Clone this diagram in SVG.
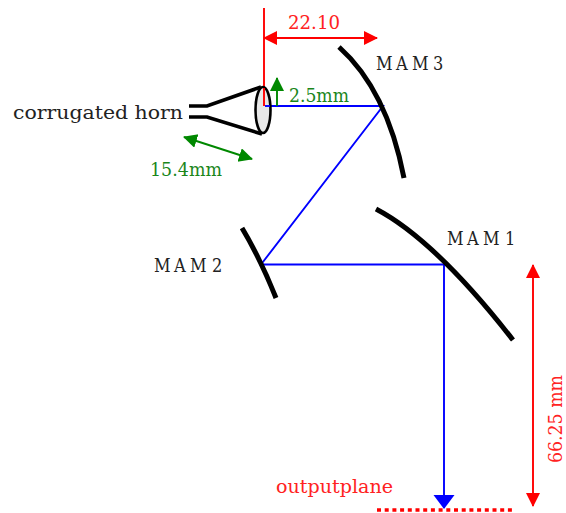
<svg xmlns="http://www.w3.org/2000/svg" width="566" height="513" viewBox="0 0 566 513">
<style>
text{font-family:"DejaVu Serif",serif;font-size:18px}
.c{font-family:"DejaVu Serif Condensed","DejaVu Serif",serif}
.k{fill:#222}.r{fill:#f22}.g{fill:#1a861a}
.m{fill:none;stroke:#000;stroke-width:5}
.b{fill:none;stroke:#00f;stroke-width:1.9}
.rl{fill:none;stroke:#f00;stroke-width:1.9}
.gl{fill:none;stroke:#080;stroke-width:1.9}
</style>
<defs>
<marker id="ar" markerUnits="userSpaceOnUse" markerWidth="14" markerHeight="16" refX="13" refY="7" orient="auto-start-reverse"><path d="M0 0L14 7L0 14Z" fill="#f00"/></marker>
<marker id="ag" markerUnits="userSpaceOnUse" markerWidth="14" markerHeight="16" refX="13" refY="7" orient="auto-start-reverse"><path d="M0 0L14 7L0 14Z" fill="#080"/></marker>
<marker id="ab" markerUnits="userSpaceOnUse" markerWidth="14" markerHeight="22" refX="13" refY="10.5" orient="auto"><path d="M0 0L14 10.5L0 21Z" fill="#00f"/></marker>
</defs>
<g id="connectors">
<path class="b" d="M265 106H383L261 264.500H444V508" marker-end="url(#ab)"/>
<path class="rl" d="M264 8V106"/>
<path class="rl" d="M264 38H377" marker-start="url(#ar)" marker-end="url(#ar)"/>
<path class="rl" d="M533 265V506" marker-start="url(#ar)" marker-end="url(#ar)"/>
<path class="gl" d="M277 106V78" marker-end="url(#ag)"/>
<path class="gl" d="M184 137L252 159" marker-start="url(#ag)" marker-end="url(#ag)"/>
<path d="M377 510H512" fill="none" stroke="#f00" stroke-width="3.5" stroke-dasharray="4 3.7"/>
</g>
<g id="horn">
<ellipse cx="263" cy="110" rx="7.5" ry="23" fill="#e8e8e8" stroke="#000" stroke-width="2.6"/>
<path d="M189 106H207L261 87M189 117H207L262 134" fill="none" stroke="#000" stroke-width="3.6"/>
<path d="M264 88V106" fill="none" stroke="#f00" stroke-width="1.9"/>
<path d="M265 106H270" fill="none" stroke="#00f" stroke-width="1.9"/>
<text class="k" x="13" y="119" textLength="170" lengthAdjust="spacingAndGlyphs">corrugated horn</text>
</g>
<g id="mam3"><text class="k c" y="70" x="376 396 412 0 433">MAM 3</text><path class="m" d="M339 47Q387 90 404 178"/></g>
<g id="mam1"><text class="k c" y="245" x="447 467 483 0 505">MAM 1</text><path class="m" d="M376 209Q435 240 513 340"/></g>
<g id="mam2"><text class="k c" y="272" x="154 174 190 0 212">MAM 2</text><path class="m" d="M242 228Q260 258 276 298"/></g>
<g id="dim-22"><text class="r" x="288" y="29" textLength="52" lengthAdjust="spacingAndGlyphs">22.10</text></g>
<g id="dim-25"><text class="g" x="289" y="102" textLength="60" lengthAdjust="spacingAndGlyphs">2.5mm</text></g>
<g id="dim-154"><text class="g" x="150" y="176" textLength="72" lengthAdjust="spacingAndGlyphs">15.4mm</text></g>
<g id="dim-66"><text class="r" transform="translate(562 463) rotate(-90)" textLength="88" lengthAdjust="spacingAndGlyphs">66.25 mm</text></g>
<g id="output"><text class="r" x="276" y="493" textLength="117" lengthAdjust="spacingAndGlyphs">outputplane</text></g>
</svg>
